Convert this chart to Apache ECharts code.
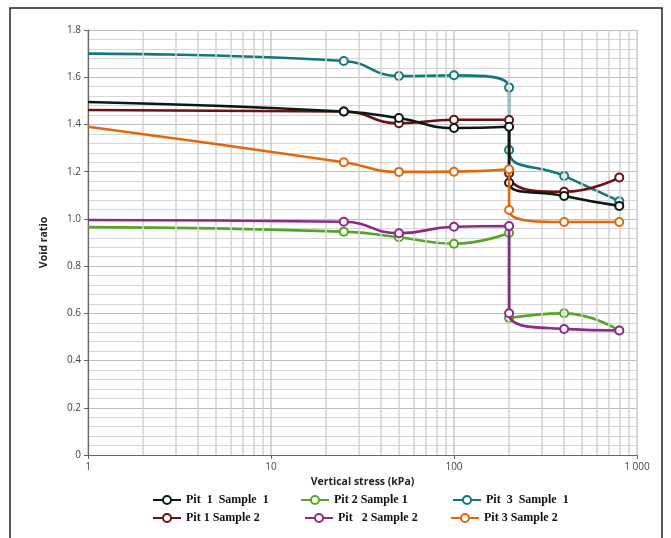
<!DOCTYPE html>
<html>
<head>
<meta charset="utf-8">
<script src="https://cdn.jsdelivr.net/npm/echarts@6/dist/echarts.min.js"></script>
<style>html,body{margin:0;padding:0;background:#fff}#c{width:671px;height:538px}</style>
</head>
<body>
<div id="c"></div>
<script>
// ---- data ----
const seriesNames = ['Pit  1  Sample  1', 'Pit 2 Sample 1', 'Pit  3  Sample  1', 'Pit 1 Sample 2', 'Pit   2 Sample 2', 'Pit 3 Sample 2'];
const stress = [1, 25, 50, 100, 200, 200, 400, 800];
const pit1s1 = [1.495, 1.455, 1.427, 1.385, 1.39, 1.153, 1.097, 1.055];
const pit2s1 = [0.965, 0.946, 0.922, 0.895, 0.94, 0.58, 0.60, 0.527];
const pit3s1 = [1.70, 1.669, 1.605, 1.608, 1.556, 1.292, 1.182, 1.075];
const pit1s2 = [1.461, 1.455, 1.405, 1.42, 1.419, 1.193, 1.115, 1.175];
const pit2s2 = [0.995, 0.988, 0.939, 0.967, 0.97, 0.60, 0.534, 0.527];
const pit3s2 = [1.39, 1.24, 1.199, 1.20, 1.21, 1.038, 0.987, 0.987];
const colors = ['#0b1a12', '#55a528', '#13787b', '#6b1212', '#8c2a88', '#e0690f'];
const yTicks = [0, 0.2, 0.4, 0.6, 0.8, 1.0, 1.2, 1.4, 1.6, 1.8];
const xMinorGrid = [2,3,4,5,6,7,8,9,20,30,40,50,60,70,80,90,200,300,400,500,600,700,800,900];

const allY = [pit1s1, pit2s1, pit3s1, pit1s2, pit2s2, pit3s2];
const zOrder = [6, 3, 4, 5, 7, 8];

function mk(ys) {
  return stress.map((x, i) => i === 0 ? { value: [x, ys[i]], symbol: 'none' } : [x, ys[i]]);
}

const series = allY.map((ys, k) => ({
  name: seriesNames[k],
  type: 'line',
  data: mk(ys),
  smooth: 0.5,
  symbol: 'emptyCircle',
  symbolSize: 8,
  z: zOrder[k],
  lineStyle: { color: colors[k], width: 2.6 },
  itemStyle: { color: colors[k], borderColor: colors[k], borderWidth: 1.8 }
}));

series.unshift({
  name: 'grid',
  type: 'line',
  data: [],
  z: 1,
  silent: true,
  markLine: {
    silent: true,
    symbol: ['none', 'none'],
    label: { show: false },
    lineStyle: { color: '#d2d2d2', width: 1.5, type: 'solid' },
    emphasis: { disabled: true },
    data: xMinorGrid.map(v => ({ xAxis: v }))
  }
});

const legendPos = [
  { left: 152, top: 494 }, { left: 300, top: 494 }, { left: 452, top: 494 },
  { left: 152, top: 512 }, { left: 304, top: 512 }, { left: 450, top: 512 }
];
const legends = seriesNames.map((n, k) => ({
  data: [n],
  left: legendPos[k].left,
  top: legendPos[k].top,
  itemWidth: 28,
  itemHeight: 10,
  itemGap: 4,
  padding: 0,
  textStyle: { fontFamily: 'Liberation Serif', fontWeight: 'bold', fontSize: 12, color: '#111' }
}));

const chart = echarts.init(document.getElementById('c'));
chart.setOption({
  animation: false,
  backgroundColor: '#fff',
  grid: { left: 88, right: 34, top: 30, bottom: 83 },
  legend: legends,
  xAxis: {
    type: 'log',
    logBase: 10,
    min: 1,
    max: 1000,
    name: 'Vertical stress (kPa)',
    nameLocation: 'middle',
    nameGap: 22,
    nameTextStyle: { fontFamily: 'Open Sans', fontWeight: 'bold', fontSize: 10.5, color: '#222' },
    axisLine: { lineStyle: { color: '#666', width: 1.2 } },
    axisTick: { show: true, length: 4, lineStyle: { color: '#666' } },
    axisLabel: { fontFamily: 'Open Sans', fontSize: 10, color: '#444', margin: 7,
      formatter: v => v === 1000 ? '1 000' : String(v) },
    splitLine: { show: true, lineStyle: { color: '#c8c8c8', width: 1.5 } }
  },
  yAxis: {
    type: 'value',
    min: 0,
    max: 1.8,
    interval: 0.2,
    name: 'Void ratio',
    nameLocation: 'middle',
    nameGap: 38,
    nameRotate: 90,
    nameTextStyle: { fontFamily: 'Open Sans', fontWeight: 'bold', fontSize: 10.5, color: '#222' },
    axisLine: { show: true, lineStyle: { color: '#666', width: 1.2 } },
    axisTick: { show: true, length: 4, lineStyle: { color: '#666' } },
    axisLabel: { fontFamily: 'Open Sans', fontSize: 10, color: '#444', margin: 7,
      formatter: v => v === 0 ? '0' : v.toFixed(1) },
    splitLine: { show: true, lineStyle: { color: '#bdbdbd', width: 1.2 } },
    minorTick: { show: false, splitNumber: 5 },
    minorSplitLine: { show: true, lineStyle: { color: '#d6d6d6', width: 1 } }
  },
  graphic: [{
    type: 'rect',
    shape: { x: 10, y: 8, width: 652, height: 600 },
    style: { fill: null, stroke: '#222', lineWidth: 1.5 },
    silent: true,
    z: -1
  }],
  series: series
});
</script>
</body>
</html>
